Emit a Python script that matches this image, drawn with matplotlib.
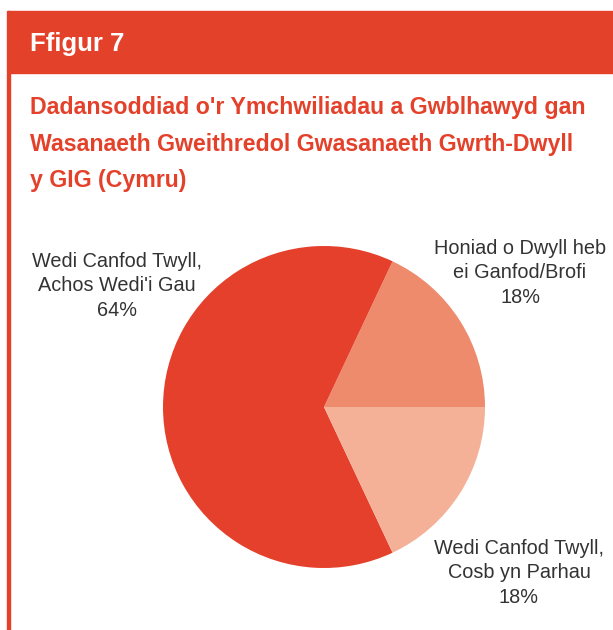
import matplotlib
matplotlib.use('Agg')
from matplotlib import pyplot as plt
from matplotlib.patches import Rectangle

# data
labels = ['Honiad o Dwyll heb\nei Ganfod/Brofi\n18%',
          "Wedi Canfod Twyll,\nAchos Wedi'i Gau\n64%",
          'Wedi Canfod Twyll,\nCosb yn Parhau\n18%']
values = [18, 64, 18]
colors = ['#EE8B6D', '#E4402B', '#F4B197']

title = ("Dadansoddiad o'r Ymchwiliadau a Gwblhawyd gan\n"
         "Wasanaeth Gweithredol Gwasanaeth Gwrth-Dwyll\n"
         "y GIG (Cymru)")

W, H = 613, 630
RED = '#E4412B'
plt.rcParams['font.family'] = ['Liberation Sans', 'DejaVu Sans']

fig = plt.figure(figsize=(W / 100, H / 100), dpi=100)

def fx(x):
    return x / W

def fy(y):
    return 1 - y / H

# header bar and left border
fig.patches.append(Rectangle((fx(8), fy(73)), fx(W - 8), 62 / H,
                             transform=fig.transFigure, color=RED, zorder=0))
fig.patches.append(Rectangle((fx(7), 0), 2.5 / W, fy(11),
                             transform=fig.transFigure, color=RED, zorder=0))
fig.text(fx(30), fy(44), 'Ffigur 7', color='white', fontsize=18.5,
         fontweight='bold', va='center', ha='left')
fig.text(fx(30), fy(96), title, color=RED, fontsize=16.7, fontweight='bold',
         va='top', ha='left', linespacing=1.75)

# pie
cx, cy, r = 324, 407, 161
ax = fig.add_axes([fx(cx - r), fy(cy + r), 2 * r / W, 2 * r / H])
ax.pie(values, colors=colors, startangle=0, counterclock=True,
       wedgeprops=dict(linewidth=0))
ax.set_xlim(-1, 1)
ax.set_ylim(-1, 1)
ax.set_aspect('auto')
ax.axis('off')

label_pos = [(520, 273), (117, 286), (519, 573)]
for lab, (x, y) in zip(labels, label_pos):
    fig.text(fx(x), fy(y), lab, color='#333333', fontsize=14.3,
             ha='center', va='center', linespacing=1.38)

fig.savefig('out.png', dpi=100)
